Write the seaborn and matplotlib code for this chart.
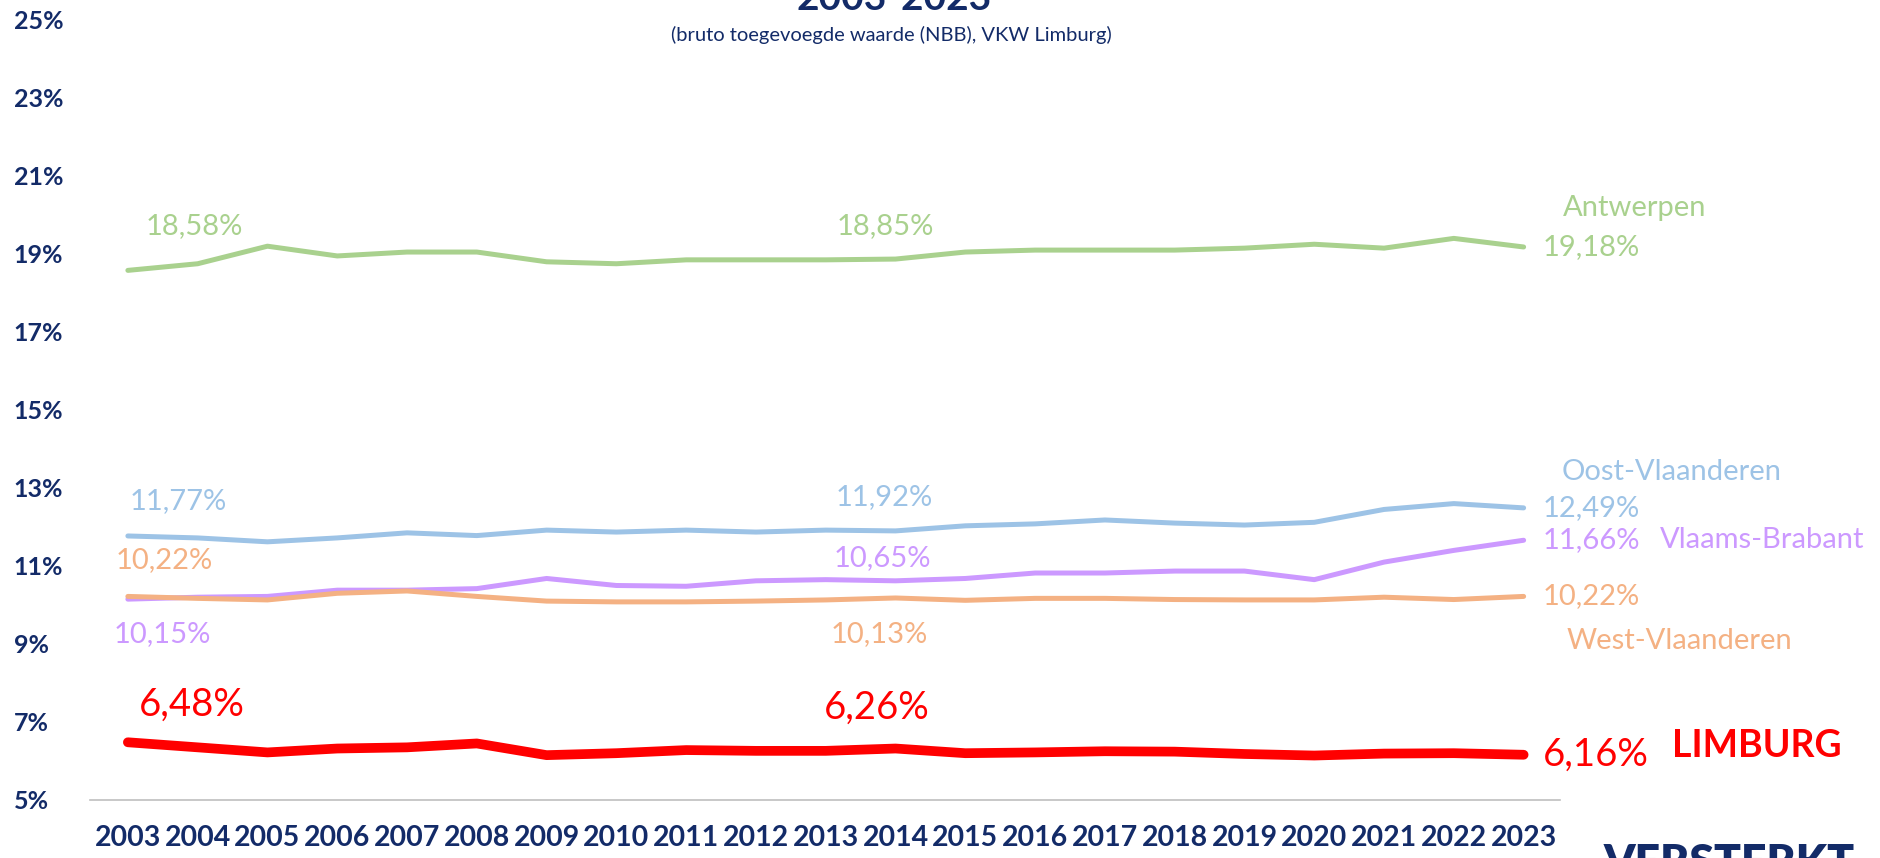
import numpy as np
import pandas as pd
import seaborn as sns
import matplotlib.pyplot as plt

# data (share in %, 2003-2023)
years = list(range(2003, 2024))
antwerpen = [18.58, 18.75, 19.20, 18.95, 19.05, 19.05, 18.80, 18.75, 18.85, 18.85, 18.85,
             18.87, 19.05, 19.10, 19.10, 19.10, 19.15, 19.25, 19.15, 19.40, 19.18]
oost_vl = [11.77, 11.72, 11.62, 11.72, 11.85, 11.78, 11.92, 11.87, 11.92, 11.87, 11.92,
           11.90, 12.03, 12.08, 12.18, 12.10, 12.05, 12.12, 12.45, 12.60, 12.49]
vl_brabant = [10.15, 10.20, 10.22, 10.38, 10.38, 10.42, 10.68, 10.50, 10.48, 10.62, 10.65,
              10.62, 10.68, 10.82, 10.82, 10.87, 10.87, 10.65, 11.10, 11.40, 11.66]
west_vl = [10.22, 10.17, 10.13, 10.30, 10.36, 10.22, 10.10, 10.08, 10.08, 10.10, 10.13,
           10.18, 10.12, 10.17, 10.17, 10.14, 10.13, 10.13, 10.20, 10.14, 10.22]
limburg = [6.48, 6.35, 6.22, 6.32, 6.35, 6.45, 6.15, 6.20, 6.28, 6.26, 6.26,
           6.32, 6.20, 6.22, 6.25, 6.24, 6.18, 6.14, 6.19, 6.20, 6.16]

names = ["Antwerpen", "Oost-Vlaanderen", "Vlaams-Brabant", "West-Vlaanderen", "LIMBURG"]
series = [antwerpen, oost_vl, vl_brabant, west_vl, limburg]
ytick_vals = [5, 7, 9, 11, 13, 15, 17, 19, 21, 23, 25]

title = "2003-2023"
subtitle = "(bruto toegevoegde waarde (NBB), VKW Limburg)"
footer = "VERSTERKT"

# styling
navy = "#132B68"
colors = {"Antwerpen": "#A9D18E", "Oost-Vlaanderen": "#9DC3E6",
          "Vlaams-Brabant": "#CC99FF", "West-Vlaanderen": "#F4B183", "LIMBURG": "#FF0000"}
widths = {"Antwerpen": 3.6, "Oost-Vlaanderen": 3.6, "Vlaams-Brabant": 3.6,
          "West-Vlaanderen": 3.6, "LIMBURG": 7.0}
# label offsets in pixels: (first year, 2013, name label)
first_off = {"Antwerpen": (66, 44), "Oost-Vlaanderen": (50, 35), "Vlaams-Brabant": (34, -35),
             "West-Vlaanderen": (36, 36), "LIMBURG": (64, 38)}
mid_off = {"Antwerpen": (60, 34), "Oost-Vlaanderen": (59, 33), "Vlaams-Brabant": (57, 22),
           "West-Vlaanderen": (54, -34), "LIMBURG": (51, 43)}
name_off = {"Antwerpen": (39, 39), "Oost-Vlaanderen": (38, 36), "Vlaams-Brabant": (136, 0),
            "West-Vlaanderen": (43, -45), "LIMBURG": (148, 9)}

sns.set_theme(style="white")
plt.rcParams["font.family"] = ["Lato", "DejaVu Sans"]

df = pd.DataFrame({"jaar": np.tile(years, len(names)),
                   "aandeel": np.concatenate(series),
                   "provincie": np.repeat(names, len(years))})

fig = plt.figure(figsize=(18.81, 8.58), dpi=100)
ax = fig.add_axes([0.0478, 0.0676, 0.7815, 0.9091])

for name in names:
    sub = df[df["provincie"] == name]
    sns.lineplot(data=sub, x="jaar", y="aandeel", ax=ax, color=colors[name],
                 linewidth=widths[name], solid_capstyle="round", solid_joinstyle="round")

def fmt(v):
    return f"{v:.2f}%".replace(".", ",")

mid_idx = years.index(2013)
for name, vals in zip(names, series):
    big = name == "LIMBURG"
    fs = 27.5 if big else 21
    c = colors[name]
    ax.annotate(fmt(vals[0]), (years[0], vals[0]), xytext=first_off[name],
                textcoords="offset pixels", ha="center", va="center", fontsize=fs, color=c)
    ax.annotate(fmt(vals[mid_idx]), (years[mid_idx], vals[mid_idx]), xytext=mid_off[name],
                textcoords="offset pixels", ha="center", va="center", fontsize=fs, color=c)
    ax.annotate(fmt(vals[-1]), (years[-1], vals[-1]), xytext=(19, 0),
                textcoords="offset pixels", ha="left", va="center", fontsize=fs, color=c,
                annotation_clip=False)
    ax.annotate(name, (years[-1], vals[-1]), xytext=name_off[name],
                textcoords="offset pixels", ha="left", va="center",
                fontsize=27 if big else 21, fontweight="bold" if big else "normal",
                color=c, annotation_clip=False)

ax.set_xlim(2002.456, 2023.52)
ax.set_ylim(5, 25)
ax.set_xticks(years)
ax.set_xticklabels([str(y) for y in years], fontsize=20.5, fontweight="bold", color=navy)
ax.set_yticks(ytick_vals)
ax.set_yticklabels([f"{v}%" for v in ytick_vals], fontsize=18, fontweight="bold",
                   color=navy, ha="left")
ax.tick_params(axis="x", length=0, pad=18)
ax.tick_params(axis="y", length=0, pad=55)
ax.set_xlabel("")
ax.set_ylabel("")
ax.grid(False)
for s in ["top", "right", "left"]:
    ax.spines[s].set_visible(False)
ax.spines["bottom"].set_color("#BFBFBF")
ax.spines["bottom"].set_linewidth(1.2)

fig.text(0.4753, 1 - 10 / 858, title, ha="center", va="baseline", fontsize=28,
         fontweight="bold", color=navy)
fig.text(0.4737, 1 - 35 / 858, subtitle, ha="center", va="center", fontsize=14.5, color=navy)
fig.text(1604 / 1881, -0.0204, footer, ha="left", va="baseline", fontsize=32,
         fontweight="heavy", color=navy)

fig.savefig("out.png", dpi=100)
